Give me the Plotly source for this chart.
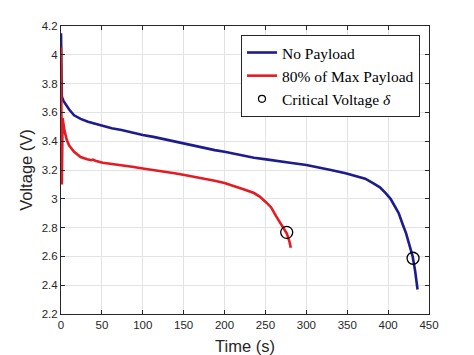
import plotly.graph_objects as go

# ---- data ----
blue_t = [0, 0.5, 1, 3, 6, 10, 16, 24, 33, 42, 51, 62, 74, 87, 100, 113, 127, 139,
          151, 163, 175, 188, 200, 218, 236, 251, 265, 280, 300, 315, 330, 348, 360,
          372, 381, 390, 397, 403, 408, 413, 418, 422, 426, 430, 433, 436]
blue_v = [4.15, 3.95, 3.71, 3.68, 3.65, 3.62, 3.58, 3.555, 3.535, 3.52, 3.505, 3.49,
          3.478, 3.46, 3.443, 3.43, 3.413, 3.397, 3.38, 3.365, 3.35, 3.338, 3.327,
          3.305, 3.285, 3.274, 3.26, 3.25, 3.235, 3.22, 3.2, 3.177, 3.16, 3.14, 3.11,
          3.08, 3.04, 3.0, 2.95, 2.9, 2.82, 2.76, 2.68, 2.6, 2.5, 2.37]

red_t = [0, 1, 2, 4, 7, 10, 16, 24, 32, 37, 39, 42, 51, 62, 74, 87, 100, 113, 127,
         139, 151, 163, 175, 188, 200, 212, 224, 236, 243, 251, 257, 263, 268, 272,
         276, 279, 281]
red_v = [4.05, 3.10, 3.56, 3.48, 3.41, 3.37, 3.327, 3.29, 3.275, 3.268, 3.272, 3.264,
         3.25, 3.243, 3.235, 3.222, 3.21, 3.2, 3.19, 3.178, 3.165, 3.153, 3.14, 3.125,
         3.11, 3.09, 3.065, 3.04, 3.015, 2.975, 2.94, 2.88, 2.83, 2.79, 2.76, 2.71, 2.66]

crit_t = [276, 430.5]
crit_v = [2.767, 2.587]

x_ticks = [0, 50, 100, 150, 200, 250, 300, 350, 400, 450]
y_ticks = [2.2, 2.4, 2.6, 2.8, 3.0, 3.2, 3.4, 3.6, 3.8, 4.0, 4.2]
y_ticklabels = ["2.2", "2.4", "2.6", "2.8", "3", "3.2", "3.4", "3.6", "3.8", "4", "4.2"]

names = ["No Payload", "80% of Max Payload", "Critical Voltage <i>δ</i>"]

BLUE = "#1c1c8e"
RED = "#e41b23"
SANS = "Liberation Sans"
SERIF = "Liberation Serif"

fig = go.Figure()
fig.add_trace(go.Scatter(x=blue_t, y=blue_v, mode="lines", name=names[0],
                         line=dict(color=BLUE, width=2.6)))
fig.add_trace(go.Scatter(x=red_t, y=red_v, mode="lines", name=names[1],
                         line=dict(color=RED, width=2.6)))
fig.add_trace(go.Scatter(x=crit_t, y=crit_v, mode="markers", showlegend=False,
                         marker=dict(symbol="circle-open", size=12, color="black",
                                     line=dict(width=1.3, color="black"))))
fig.add_trace(go.Scatter(x=[None], y=[None], mode="markers", name=names[2],
                         marker=dict(symbol="circle-open", size=7, color="black",
                                     line=dict(width=1.2, color="black"))))

axis_common = dict(
    showline=True, linecolor="#262626", linewidth=1, mirror="ticks",
    ticks="inside", ticklen=4, tickcolor="#262626",
    showgrid=True, gridcolor="#e3e3e3", gridwidth=1, zeroline=False,
    automargin=False,
    tickfont=dict(family=SANS, size=11.5, color="#262626"),
)

fig.update_xaxes(range=[0, 450], tickvals=x_ticks,
                 title=dict(text="Time (s)", standoff=10,
                            font=dict(family=SANS, size=16.5, color="#262626")),
                 **axis_common)
fig.update_yaxes(range=[2.2, 4.2], tickvals=y_ticks, ticktext=y_ticklabels,
                 title=dict(text="Voltage (V)", standoff=4,
                            font=dict(family=SANS, size=16.5, color="#262626")),
                 **axis_common)

# page body has an 8px default margin, so margins are offset by 8px
fig.update_layout(
    width=474, height=355,
    margin=dict(l=53, r=53, t=18, b=49),
    paper_bgcolor="white", plot_bgcolor="white",
    legend=dict(x=0.9755, y=0.969, xanchor="right", yanchor="top",
                bgcolor="white", bordercolor="#262626", borderwidth=1,
                font=dict(family=SERIF, size=15.5, color="black"),
                tracegroupgap=0, itemwidth=30),
    showlegend=True,
)

fig.write_html("out.html")
